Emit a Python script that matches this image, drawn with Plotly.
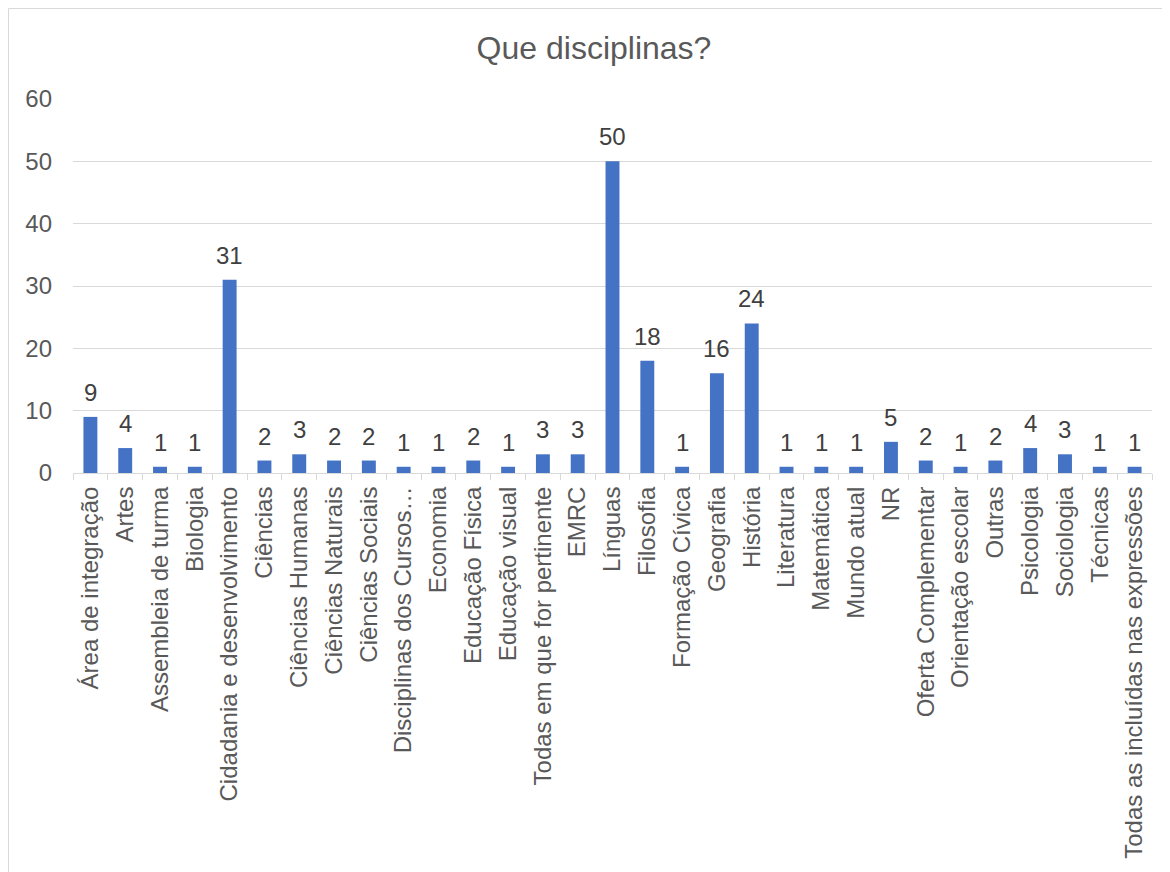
import plotly.graph_objects as go

categories = [
    "Área de integração", "Artes", "Assembleia de turma", "Biologia",
    "Cidadania e desenvolvimento", "Ciências", "Ciências Humanas",
    "Ciências Naturais", "Ciências Sociais", "Disciplinas dos Cursos…",
    "Economia", "Educação Física", "Educação visual",
    "Todas em que for pertinente", "EMRC", "Línguas", "Filosofia",
    "Formação Cívica", "Geografia", "História", "Literatura", "Matemática",
    "Mundo atual", "NR", "Oferta Complementar", "Orientação escolar",
    "Outras", "Psicologia", "Sociologia", "Técnicas",
    "Todas as incluídas nas expressões",
]
values = [9, 4, 1, 1, 31, 2, 3, 2, 2, 1, 1, 2, 1, 3, 3, 50, 18, 1, 16, 24,
          1, 1, 1, 5, 2, 1, 2, 4, 3, 1, 1]
y_ticks = [0, 10, 20, 30, 40, 50, 60]
title_text = "Que disciplinas?"

FONT = "Liberation Sans, Arial, sans-serif"
W, H = 1170, 872
OFF = 8  # page body offset
ML, MT = 73 - OFF, 99 - OFF
MR = W - (1152 - OFF)
MB = H - (473 - OFF)
pw = W - ML - MR
ph = H - MT - MB

fig = go.Figure(go.Bar(
    x=categories, y=values,
    marker=dict(color="#4472C4", line=dict(width=0)),
    width=0.4,
    hoverinfo="x+y",
))

annotations = [
    dict(x=c, y=v, xref="x", yref="y", text=str(v), showarrow=False,
         yanchor="bottom", xanchor="center", yshift=9,
         font=dict(family=FONT, size=24, color="#404040"))
    for c, v in zip(categories, values)
]

def px_x(p):
    return (p - OFF - ML) / pw

def px_y(p):
    return (H - MB - (p - OFF)) / ph

fig.update_layout(
    width=W, height=H,
    margin=dict(l=ML, r=MR, t=MT, b=MB, autoexpand=False),
    paper_bgcolor="white", plot_bgcolor="white",
    showlegend=False,
    title=dict(text=title_text, x=(594 - OFF) / W, xanchor="center",
               xref="container",
               y=1 - (48 - OFF) / H, yanchor="middle",
               font=dict(family=FONT, size=32, color="#595959")),
    xaxis=dict(
        type="category",
        tickangle=-90,
        tickfont=dict(family=FONT, size=24, color="#595959"),
        showgrid=False,
        showline=True, linecolor="#d9d9d9", linewidth=1,
        ticks="outside", tickson="boundaries", ticklen=6,
        tickcolor="#d9d9d9",
        ticklabelstandoff=3,
        range=[-0.5, len(categories) - 0.5],
    ),
    yaxis=dict(
        range=[0, 60],
        tickvals=y_ticks,
        tickfont=dict(family=FONT, size=24, color="#595959"),
        showgrid=True, gridcolor="#d9d9d9", gridwidth=1,
        zeroline=False, showline=False,
        ticks="", ticklabelstandoff=20,
    ),
    annotations=annotations,
    shapes=[dict(
        type="rect", xref="paper", yref="paper",
        x0=px_x(8.5), x1=px_x(1200), y0=px_y(900), y1=px_y(8.5),
        line=dict(color="#d9d9d9", width=1), fillcolor="rgba(0,0,0,0)",
        layer="below",
    )],
)

fig.write_html("out.html")
